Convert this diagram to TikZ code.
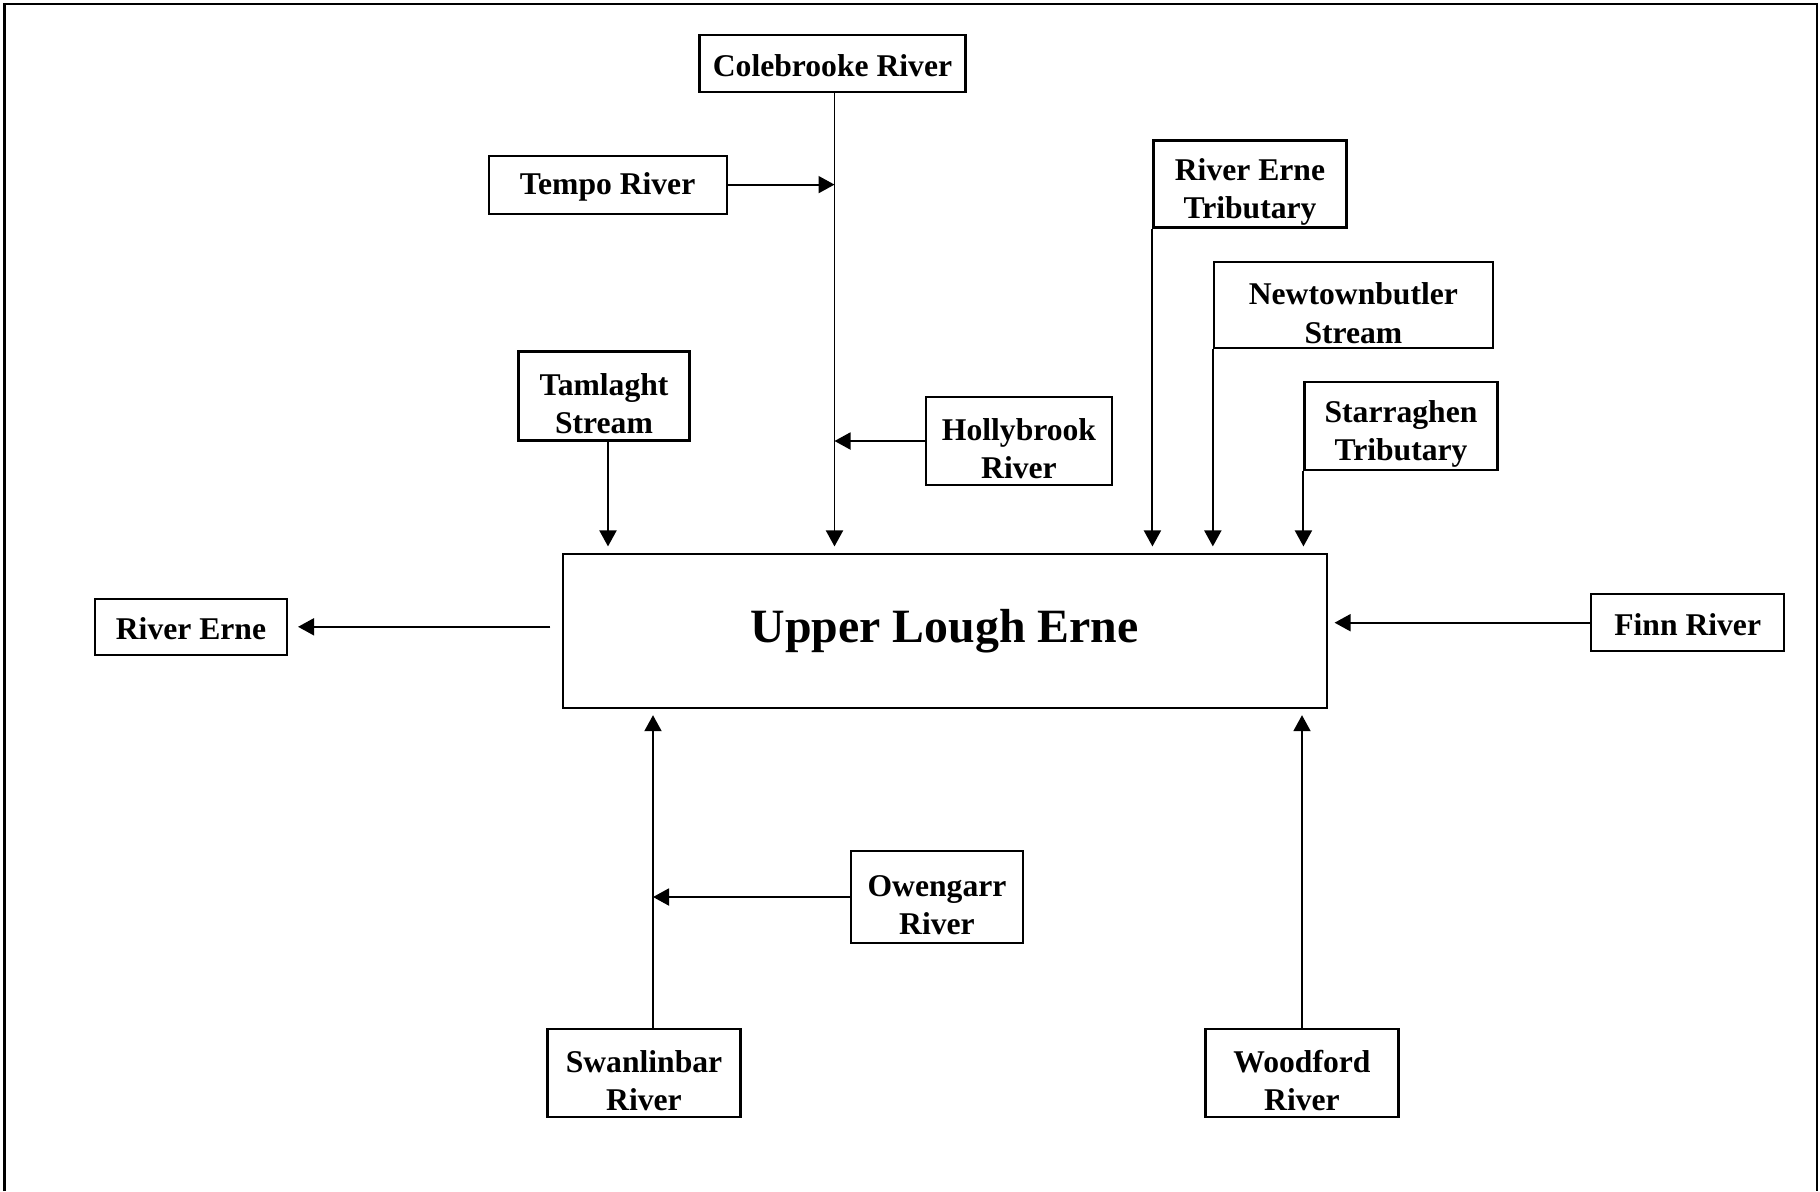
\documentclass[tikz,border=0pt]{standalone}
\usepackage{fontspec}
\setmainfont{Liberation Serif}
\usetikzlibrary{arrows.meta}

\begin{document}
\begin{tikzpicture}[
        river/.style={draw, line width=0.6pt, inner sep=0pt, align=center, text height=0.26cm,
                      font=\bfseries\fontsize{9}{10.9}\selectfont},
        tworow/.style={text height=0.76cm},
        lake/.style={draw, line width=0.5pt, inner sep=0pt,
                     font=\bfseries\fontsize{13.6}{16}\selectfont},
        flow/.style={-{Triangle[length=1.6mm, width=1.7mm]}, line width=0.55pt},
        frame/.style={line width=0.75pt}
    ]

        % --- parameters ---
        \def\gapT{0.07cm}   % gap above the lake
        \def\gapB{0.06cm}   % gap below the lake

        % --- 0. canvas and frame (open at the bottom) ---
        \useasboundingbox (0,0) rectangle (18.20,-11.91);
        \draw[frame] (0.045,-11.91) -- (0.045,-0.04) -- (18.17,-0.04) -- (18.17,-11.91);

        % --- 1. the lake ---
        \node[lake, minimum width=7.64cm, minimum height=1.54cm] (ule) at (9.447,-6.313) {Upper Lough Erne};

        % --- 2. inflows from the north ---
        \node[river, minimum width=2.66cm, minimum height=0.57cm] (cole) at (8.325,-0.633) {Colebrooke River};
        \node[river, minimum width=2.38cm, minimum height=0.58cm] (tempo) at (6.076,-1.846) {Tempo River};
        \node[river, tworow, minimum width=1.71cm, minimum height=0.89cm] (tamlaght) at (6.040,-3.960) {Tamlaght\\Stream};
        \node[river, tworow, minimum width=1.86cm, minimum height=0.88cm] (holly) at (10.190,-4.410) {Hollybrook\\River};
        \node[river, tworow, minimum width=1.93cm, minimum height=0.87cm] (retrib) at (12.500,-1.840) {River Erne\\Tributary};
        \node[river, tworow, minimum width=2.79cm, minimum height=0.86cm] (newtown) at (13.534,-3.053) {Newtownbutler\\Stream};
        \node[river, tworow, minimum width=1.93cm, minimum height=0.88cm] (starr) at (14.010,-4.260) {Starraghen\\Tributary};

        % --- 3. outflow and inflow east / west ---
        \node[river, minimum width=1.92cm, minimum height=0.56cm] (erne) at (1.910,-6.268) {River Erne};
        \node[river, minimum width=1.93cm, minimum height=0.57cm] (finn) at (16.877,-6.227) {Finn River};

        % --- 4. inflows from the south ---
        \node[river, tworow, minimum width=1.72cm, minimum height=0.92cm] (owen) at (9.370,-8.970) {Owengarr\\River};
        \node[river, tworow, minimum width=1.93cm, minimum height=0.88cm] (swan) at (6.440,-10.730) {Swanlinbar\\River};
        \node[river, tworow, minimum width=1.93cm, minimum height=0.88cm] (wood) at (13.020,-10.730) {Woodford\\River};

        % --- 5. connectors ---
        \coordinate (coleX) at ([xshift=0.02cm]cole.south);
        \coordinate (swanX) at ([xshift=0.09cm]swan.north);

        \draw[flow, shorten >=\gapT] (coleX) -- (coleX |- ule.north);
        \draw[flow] (tempo.east) -- (tempo.east -| coleX);
        \draw[flow] (holly.west) -- (holly.west -| coleX);
        \draw[flow, shorten >=\gapT] ([xshift=0.04cm]tamlaght.south) -- ([xshift=0.04cm]tamlaght.south |- ule.north);
        \draw[flow, shorten >=\gapT] (retrib.south west) -- (retrib.south west |- ule.north);
        \draw[flow, shorten >=\gapT] (newtown.south west) -- (newtown.south west |- ule.north);
        \draw[flow, shorten >=\gapT] (starr.south west) -- (starr.south west |- ule.north);

        \draw[flow, shorten <=0.115cm, shorten >=0.1cm] (ule.west |- erne.east) -- (erne.east);
        \draw[flow, shorten >=\gapT] (finn.west) -- (finn.west -| ule.east);

        \draw[flow, shorten >=\gapB] (swanX) -- (swanX |- ule.south);
        \draw[flow] (owen.west) -- (owen.west -| swanX);
        \draw[flow, shorten >=\gapB] (wood.north) -- (wood.north |- ule.south);

    \end{tikzpicture}
\end{document}
